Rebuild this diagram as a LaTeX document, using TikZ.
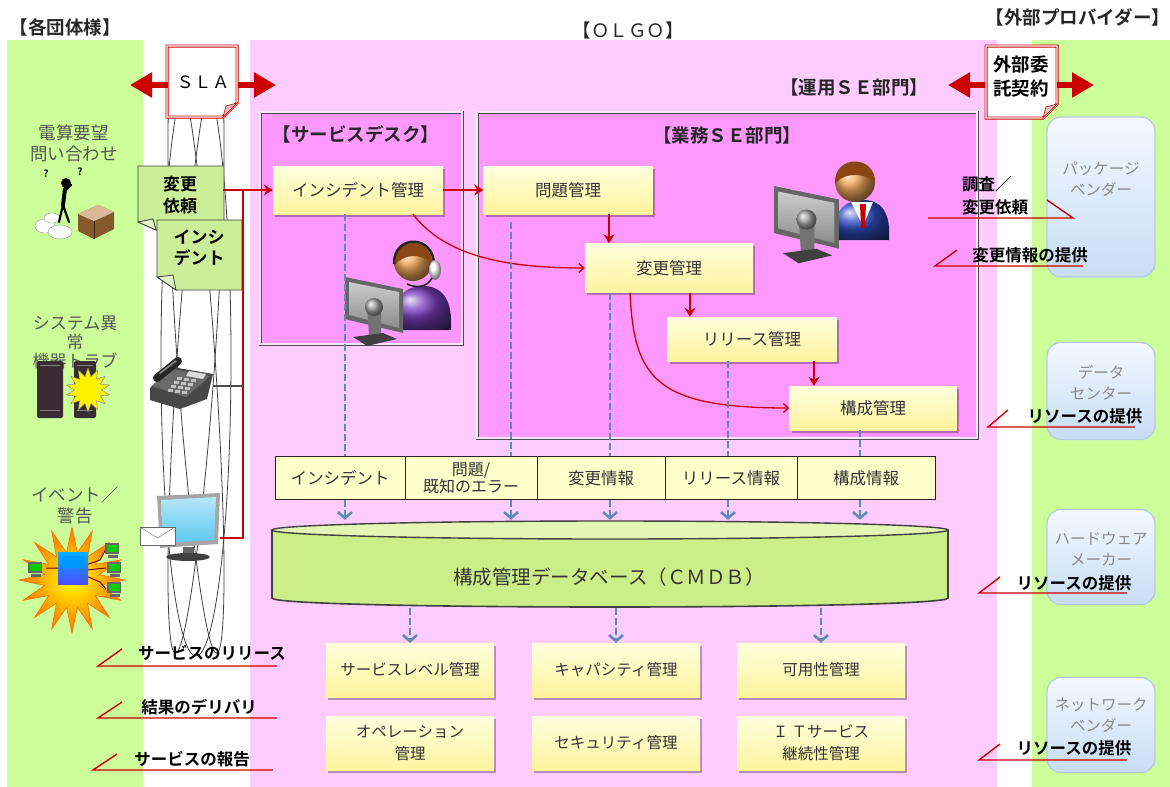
\documentclass[tikz,border=0pt]{standalone}
\usepackage{fontspec}
\setmainfont{Noto Sans CJK JP}[BoldFont={Noto Sans CJK JP Bold}]
\usetikzlibrary{shapes.geometric,shadows,arrows.meta,calc}

\newcommand{\fsz}[2]{\fontsize{#1}{#2}\selectfont}

\definecolor{bandgreen}{HTML}{CCFF99}
\definecolor{bandpink}{HTML}{FFCCFF}
\definecolor{deskpink}{HTML}{FF99FF}
\definecolor{procA}{HTML}{FFFFDD}
\definecolor{procB}{HTML}{FFF39E}
\definecolor{cellfill}{HTML}{FFFFCC}
\definecolor{linkred}{HTML}{CC0000}
\definecolor{flowblue}{HTML}{5B8DB3}
\definecolor{dbgreen}{HTML}{CCEE88}
\definecolor{dbtop}{HTML}{E4F6B4}
\definecolor{docgreen}{HTML}{CCEE99}
\definecolor{vendorA}{HTML}{F4F9FF}
\definecolor{vendorB}{HTML}{C6DDF4}
\definecolor{vendoredge}{HTML}{B4CCE2}
\definecolor{darktext}{HTML}{333333}
\definecolor{greytext}{HTML}{8A8A8A}
\definecolor{lefttext}{HTML}{555555}
\definecolor{skin}{HTML}{F2A65A}
\definecolor{hair}{HTML}{8B4513}
\definecolor{suitblue}{HTML}{3050C8}
\definecolor{purplebody}{HTML}{7A3FC0}
\definecolor{screenblue}{HTML}{5CC8F0}
\definecolor{servdark}{HTML}{3A2C33}

\begin{document}
\begin{tikzpicture}[x=1pt, y=-1pt,
  proc/.style={rectangle, minimum width=170pt, minimum height=48pt, inner sep=2pt,
    top color=procA, bottom color=procB, draw=none, align=center,
    drop shadow={shadow xshift=2pt, shadow yshift=-2.5pt, fill=black, opacity=0.3},
    text=darktext, font=\fsz{16.5}{20}},
  lowproc/.style={proc, minimum width=168pt, minimum height=54pt, font=\fsz{15.5}{22}},
  cell/.style={rectangle, draw=black!85, line width=1pt, fill=cellfill, minimum height=43pt,
    inner sep=1pt, align=center, text=darktext, font=\fsz{16.5}{17}},
  deskbox/.style={draw=black!70, double=bandpink!50, double distance=1.6pt, line width=0.7pt,
    fill=deskpink, inner sep=0pt},
  heading/.style={font=\bfseries\fsz{18.5}{22}, text=black!85},
  redarrow/.style={draw=linkred, line width=1.8pt, -{Stealth[length=9pt,width=11pt]}},
  redcurve/.style={draw=linkred, line width=1.3pt, -{Straight Barb[length=5pt,width=9pt]}},
  redthin/.style={draw=linkred, line width=1.5pt},
  bigarrow/.style={draw=linkred, line width=6pt, -{Triangle[length=22pt,width=24pt]}},
  docred/.style={draw=linkred, line width=0.8pt, double=white, double distance=1.4pt, fill=white},
  docg/.style={draw=black!75, line width=0.8pt, fill=docgreen},
  flowline/.style={draw=flowblue, line width=2.6pt, dash pattern=on 7pt off 3pt},
  flowarrow/.style={flowline, -{Straight Barb[length=6pt,width=14pt]}},
  vendor/.style={rounded corners=14pt, top color=vendorA, bottom color=vendorB,
    draw=vendoredge, line width=1.3pt, minimum width=108pt, inner sep=0pt},
  vtext/.style={font=\fsz{15.5}{21}, text=greytext, align=center},
  halfline/.style={draw=linkred, line width=1.4pt},
  tag/.style={font=\bfseries\fsz{16.5}{23}, text=black, align=center, inner sep=1pt},
  lefttxt/.style={font=\fsz{17.5}{21}, text=lefttext, align=center},
  ringline/.style={draw=black!75, line width=0.8pt},
  blank/.style={inner sep=0pt, minimum size=0pt}
]
\useasboundingbox (0,0) rectangle (1170,787);

% ---- background bands ----
\fill[bandgreen] (7,40) rectangle (143,787);
\fill[bandpink] (250,40) rectangle (997,787);
\fill[bandgreen] (1032,40) rectangle (1170,787);

% ---- headings ----
\node[heading] (hLeft) at (65,27) {【各団体様】};
\node[font=\fsz{18.5}{22}, text=black!85] (hCenter) at (628,30) {【ＯＬＧＯ】};
\node[heading, font=\bfseries\fsz{18.5}{22}] (hRight) at (1078,17) {【外部プロバイダー】};
\node[heading] (hOps) at (854,87) {【運用ＳＥ部門】};

% ---- contact rings ----
\draw[ringline] (196,358) ellipse [x radius=35, y radius=298];
\draw[ringline, rotate around={4:(196,358)}] (196,358) ellipse [x radius=19, y radius=296];
\draw[ringline, rotate around={-4:(196,358)}] (196,358) ellipse [x radius=19, y radius=296];

% ---- SLA document ----
\draw[docred] (167,46) -- (237,46) -- (237,103) -- (223,117) -- (167,117) -- cycle;
\fill[linkred!25, draw=linkred, line width=0.6pt] (223,117) -- (237,103) -- (226,106) -- cycle;
\node[font=\fsz{17}{20}, minimum width=70pt, minimum height=71pt, inner sep=0pt] (sla) at (203,82)
  {Ｓ\hspace{1pt}Ｌ\hspace{1pt}Ａ};
\coordinate (slaL) at (130,85);
\coordinate (slaR) at (276,85);
\draw[bigarrow] ([yshift=-3pt]sla.west) -- (slaL);
\draw[bigarrow] ([yshift=-3pt]sla.east) -- (slaR);

% ---- outsourcing contract document ----
\draw[docred] (986,46) -- (1057,46) -- (1057,104) -- (1043,118) -- (986,118) -- cycle;
\fill[linkred!25, draw=linkred, line width=0.6pt] (1043,118) -- (1057,104) -- (1046,107) -- cycle;
\node[font=\bfseries\fsz{18.5}{24}, align=center, minimum width=71pt, minimum height=72pt, inner sep=0pt]
  (cont) at (1021,76) {外部委\\託契約};
\coordinate (contL) at (948,85);
\coordinate (contR) at (1094,85);
\draw[bigarrow] ([yshift=-9pt]cont.west) -- (contL);
\draw[bigarrow] ([yshift=-9pt]cont.east) -- (contR);

% ---- department frames ----
\node[deskbox, minimum width=202pt, minimum height=232pt] (desk) at (361,228) {};
\node[deskbox, minimum width=500pt, minimum height=326pt] (biz) at (727,275) {};
\node[heading] (deskT) at (356,134) {【サービスデスク】};
\node[heading] (bizT) at (727,135) {【業務ＳＥ部門】};

% ---- service desk operator ----
\begin{scope}[shift={(413,262)}]
  \shade[ball color=purplebody] (-20,68) .. controls (-22,36) and (-8,24) .. (10,24)
     .. controls (28,24) and (40,36) .. (38,68) -- cycle;
  \shade[ball color=skin] (0,0) circle (19);
  \fill[hair] (-19,4) .. controls (-22,-26) and (20,-26) .. (19,2) .. controls (10,-9) and (-10,-9) .. cycle;
  \draw[black!85, line width=2.5pt] (-19,2) .. controls (-20,-28) and (22,-28) .. (21,4);
  \shade[ball color=white] (22,8) ellipse [x radius=6, y radius=10];
  \draw[black!85, line width=1.6pt] (19,16) .. controls (14,26) and (2,26) .. (-6,22);
\end{scope}
\begin{scope}[shift={(345,277)}]
  \fill[black!60] (0,0) -- (58,12) -- (58,56) -- (0,42) -- cycle;
  \shade[top color=black!20, bottom color=black!45] (4,5) -- (54,15) -- (54,51) -- (4,38) -- cycle;
  \fill[black!55] (22,30) -- (36,33) -- (36,60) -- (24,58) -- cycle;
  \shade[ball color=black!35] (29,30) circle (9);
  \fill[black!75] (8,60) -- (38,56) -- (52,62) -- (22,69) -- cycle;
\end{scope}

% ---- business engineer ----
\begin{scope}[shift={(855,182)}]
  \shade[ball color=suitblue] (-22,58) .. controls (-24,30) and (-10,18) .. (8,18)
     .. controls (26,18) and (36,30) .. (34,58) -- cycle;
  \fill[white] (-4,20) -- (18,20) -- (8,44) -- cycle;
  \fill[red!80!black] (5,22) -- (11,22) -- (10,46) -- (6,46) -- cycle;
  \shade[ball color=skin] (0,0) circle (20);
  \fill[hair] (-20,2) .. controls (-22,-28) and (22,-28) .. (20,2) .. controls (12,-10) and (-12,-10) .. cycle;
\end{scope}
\begin{scope}[shift={(774,186)}, scale=1.12]
  \fill[black!60] (0,0) -- (58,12) -- (58,56) -- (0,42) -- cycle;
  \shade[top color=black!20, bottom color=black!45] (4,5) -- (54,15) -- (54,51) -- (4,38) -- cycle;
  \fill[black!55] (22,30) -- (36,33) -- (36,60) -- (24,58) -- cycle;
  \shade[ball color=black!35] (29,30) circle (9);
  \fill[black!75] (8,60) -- (38,56) -- (52,62) -- (22,69) -- cycle;
\end{scope}

% ---- process boxes ----
\node[proc] (incm) at (358,190) {インシデント管理};
\node[proc, minimum width=169pt] (prbm) at (568,190) {問題管理};
\node[proc, minimum width=168pt, minimum height=49pt] (chgm) at (669,268) {変更管理};
\node[proc, minimum width=169pt, minimum height=44pt] (relm) at (752,339) {リリース管理};
\node[proc, minimum width=167pt, minimum height=44pt] (cfgm) at (873,408) {構成管理};

\draw[redarrow] (incm.east) -- (prbm.west);
\draw[redarrow] ([xshift=41pt]prbm.south) -- ([xshift=41pt]prbm.south |- chgm.north);
\draw[redarrow] ([xshift=21pt]chgm.south) -- ([xshift=21pt]chgm.south |- relm.north);
\draw[redarrow] ([xshift=62pt]relm.south) -- ([xshift=62pt]relm.south |- cfgm.north);
\draw[redcurve] ([xshift=55pt]incm.south) .. controls (445,256) and (505,268) .. (chgm.west);
\draw[redcurve] ([xshift=-39pt]chgm.south) .. controls (634,378) and (655,408) .. (cfgm.west);

% ---- request documents ----
\draw[docg] (138,166) -- (224,166) -- (224,230) -- (156,230) -- (138,222) -- cycle;
\fill[docgreen!60!white, draw=black!75, line width=0.8pt] (138,222) -- (156,230) -- (153,219) -- cycle;
\node[font=\bfseries\fsz{17}{22}, align=center, minimum width=86pt, inner sep=0pt] (chgdoc) at (180,195) {変更\\依頼};
\draw[docg] (157,220) -- (242,220) -- (242,290) -- (176,290) -- (157,277) -- cycle;
\fill[docgreen!60!white, draw=black!75, line width=0.8pt] (157,277) -- (176,290) -- (173,275) -- cycle;
\node[font=\bfseries\fsz{17}{21}, align=center, minimum width=85pt, inner sep=0pt] (incdoc) at (199,248) {インシ\\デント};

% ---- phone ----
\node[blank, minimum width=64pt, minimum height=50pt] (phone) at (181,383) {};
\fill[black!72] (150,388) -- (172,367) -- (213,374) -- (207,399) -- (180,409) -- (150,400) -- cycle;
\fill[black!58] (152,386) -- (173,369) -- (210,376) -- (186,397) -- cycle;
\draw[black!85, line width=8pt, line cap=round] (157,378) -- (178,361);
\draw[black!45, line width=1.5pt, line cap=round] (160,373) -- (176,361);
\fill[black!15] (189,371) -- (206,374) -- (203,379) -- (186,376) -- cycle;
\foreach \r in {0,1,2,3} {
  \foreach \c in {0,1,2} {
    \fill[black!25] (177+\c*7-\r*3, 377+\r*4+\c*1.2) rectangle +(4.5,2.5);
  }
}

% ---- mail terminal ----
\node[blank, minimum width=62pt, minimum height=64pt] (mail) at (189,525) {};
\fill[black!35] (157,496) -- (220,493) -- (218,544) -- (160,548) -- cycle;
\shade[top color=screenblue!45!white, bottom color=screenblue] (161,500) -- (216,497) -- (214,540) -- (163,543) -- cycle;
\fill[black!60] (183,547) rectangle (194,556);
\fill[black!75] (188,557) ellipse [x radius=22, y radius=4];
\draw[black!60, fill=white] (140,527) rectangle (175,545);
\draw[black!60] (140,527) -- (157.5,538) -- (175,527);

% ---- request routing ----
\coordinate (jtop) at (243,190);
\coordinate (jphone) at (243,386);
\coordinate (jmail) at (243,538);
\draw[redarrow] (chgdoc.east |- incm.west) -- (incm.west);
\draw[redthin] (jtop) -- (jmail) -- (mail.east |- jmail);
\draw[black!70, line width=1.3pt] (phone.east |- jphone) -- (jphone);

% ---- customer side pictograms ----
\node[lefttxt] (askT) at (74,143) {電算要望\\問い合わせ};
\fill[white, draw=black!40] (45,226) ellipse [x radius=10, y radius=7];
\fill[white, draw=black!40] (60,232) ellipse [x radius=12, y radius=7];
\fill[white, draw=black!40] (52,218) ellipse [x radius=8, y radius=5];
\fill[brown!70!black] (78,214) -- (98,205) -- (114,212) -- (114,229) -- (94,239) -- (78,231) -- cycle;
\fill[brown!55] (78,214) -- (98,205) -- (114,212) -- (94,221) -- cycle;
\draw[brown!30!black, line width=0.5pt] (94,221) -- (94,239);
\fill[black] (66,183) circle (5);
\draw[black, line width=4pt, line cap=round] (65,189) -- (63,205);
\draw[black, line width=2.2pt, line cap=round] (63,205) -- (59,222) (63,205) -- (69,222) (64,192) -- (71,185);
\node[font=\bfseries\fsz{10}{10}, inner sep=0pt] (qa) at (46,174) {?};
\node[font=\bfseries\fsz{10}{10}, inner sep=0pt] (qb) at (80,172) {?};

\node[lefttxt, font=\fsz{17}{19}] (sysT) at (75,342) {システム異\\常\\機器トラブ};
\fill[servdark, rounded corners=2pt] (37,361) rectangle (63,418);
\fill[servdark, rounded corners=2pt] (74,361) rectangle (96,418);
\draw[black!50] (40,365) -- (60,365) (77,365) -- (93,365) (40,410) -- (60,410) (77,410) -- (93,410);
\node[star, star points=14, star point ratio=1.6, inner sep=0pt, minimum size=44pt,
  fill=yellow, draw=black!50] (sysburst) at (88,390) {};

\node[lefttxt] (evT) at (75,505) {イベント／\\警告};
\node[star, star points=16, star point ratio=1.9, inner sep=0pt, minimum size=106pt,
  draw=orange!85!red, line width=0.6pt, inner color=yellow, outer color=orange!90!red] (evburst) at (72,580) {};
\draw[purple!60!black, line width=1pt] (46,568) -- (60,568) (86,565) -- (100,560) -- (106,549)
  (86,570) -- (106,568) (86,576) -- (100,582) -- (106,589);
\shade[top color=blue!30!cyan, bottom color=blue!70] (58,552) rectangle (88,584);
\fill[blue!40!cyan] (62,556) rectangle (84,568);
\foreach \px/\py in {28/562,105/543,107/562,107/582} {
  \fill[black!60] (\px,\py) rectangle +(14,11);
  \fill[green!80!black] (\px+1.5,\py+1.5) rectangle +(11,7);
  \fill[black!60] (\px+3,\py+12) rectangle +(10,3);
}

% ---- information records ----
\node[cell, minimum width=130pt] (c1) at (340,478) {インシデント};
\node[cell, minimum width=132pt, font=\fsz{16}{17}] (c2) at (471,478) {問題/\\既知のエラー};
\node[cell, minimum width=128pt] (c3) at (601,478) {変更情報};
\node[cell, minimum width=132pt] (c4) at (731,478) {リリース情報};
\node[cell, minimum width=138pt] (c5) at (866,478) {構成情報};

% ---- CMDB ----
\fill[dbgreen] (272,530) -- (272,598) .. controls (272,610) and (948,610) .. (948,598) -- (948,530) -- cycle;
\draw[black!75, line width=1.6pt] (272,530) -- (272,598) .. controls (272,610) and (948,610) .. (948,598) -- (948,530);
\draw[black!75, line width=1.4pt, fill=dbtop] (610,530) ellipse [x radius=338, y radius=9];
\node[blank, minimum width=676pt, minimum height=88pt] (db) at (610,564) {};
\node[font=\fsz{19.5}{22}, text=darktext] (dbT) at (609,577) {構成管理データベース（ＣＭＤＢ）};

% ---- flows into the records and the CMDB ----
\coordinate (fx1) at (345,0);
\coordinate (fx2) at (511,0);
\coordinate (fx3) at (610,0);
\coordinate (fx4) at (728,0);
\coordinate (fx5) at (860,0);
\draw[flowline] (incm.south -| fx1) -- (c1.north -| fx1);
\draw[flowline] ($(prbm.south -| fx2)+(0,8)$) -- (c2.north -| fx2);
\draw[flowline] (chgm.south -| fx3) -- (c3.north -| fx3);
\draw[flowline] (relm.south -| fx4) -- (c4.north -| fx4);
\draw[flowline] (cfgm.south -| fx5) -- (c5.north -| fx5);
\draw[flowarrow] (c1.south -| fx1) -- (db.north -| fx1);
\draw[flowarrow] (c2.south -| fx2) -- (db.north -| fx2);
\draw[flowarrow] (c3.south -| fx3) -- (db.north -| fx3);
\draw[flowarrow] (c4.south -| fx4) -- (db.north -| fx4);
\draw[flowarrow] (c5.south -| fx5) -- (db.north -| fx5);

% ---- service management processes ----
\node[lowproc] (slm) at (410,670) {サービスレベル管理};
\node[lowproc] (cap) at (616,670) {キャパシティ管理};
\node[lowproc] (avl) at (821,670) {可用性管理};
\node[lowproc] (opm) at (410,743) {オペレーション\\管理};
\node[lowproc] (sec) at (616,743) {セキュリティ管理};
\node[lowproc] (itsc) at (821,743) {Ｉ Ｔサービス\\継続性管理};
\draw[flowarrow] (db.south -| slm.north) -- (slm.north);
\draw[flowarrow] (db.south -| cap.north) -- (cap.north);
\draw[flowarrow] (db.south -| avl.north) -- (avl.north);

% ---- external providers ----
\node[vendor, minimum height=160pt] (pkg) at (1101,197) {};
\node[vtext] (pkgT) at (1101,179) {パッケージ\\ベンダー};
\node[vendor, minimum height=97pt] (dc) at (1101,391) {};
\node[vtext] (dcT) at (1101,383) {データ\\センター};
\node[vendor, minimum height=95pt] (hw) at (1101,557) {};
\node[vtext] (hwT) at (1101,549) {ハードウェア\\メーカー};
\node[vendor, minimum height=95pt] (nw) at (1101,725) {};
\node[vtext] (nwT) at (1101,715) {ネットワーク\\ベンダー};

% ---- exchanges with providers ----
\node[tag, align=left, anchor=west] (askV) at (961,196) {調査／\\変更依頼};
\coordinate (a1) at (928,218); \coordinate (a2) at (1073,218); \coordinate (a3) at (1047,200);
\draw[halfline] (a1) -- (a2) -- (a3);

\node[tag] (infoV) at (1030,255) {変更情報の提供};
\coordinate (b1) at (957,250); \coordinate (b2) at (935,266); \coordinate (b3) at (1083,266);
\draw[halfline] (b1) -- (b2) -- (b3);

\node[tag] (resDC) at (1085,416) {リソースの提供};
\coordinate (d1) at (1008,410); \coordinate (d2) at (988,427); \coordinate (d3) at (1135,427);
\draw[halfline] (d1) -- (d2) -- (d3);

\node[tag] (resHW) at (1074,583) {リソースの提供};
\coordinate (e1) at (1000,577); \coordinate (e2) at (979,593); \coordinate (e3) at (1127,593);
\draw[halfline] (e1) -- (e2) -- (e3);

\node[tag] (resNW) at (1074,748) {リソースの提供};
\coordinate (g1) at (1000,744); \coordinate (g2) at (979,760); \coordinate (g3) at (1127,760);
\draw[halfline] (g1) -- (g2) -- (g3);

% ---- deliveries to the customers ----
\node[tag] (relC) at (212,653) {サービスのリリース};
\coordinate (h1) at (122,649); \coordinate (h2) at (98,666); \coordinate (h3) at (277,666);
\draw[halfline] (h1) -- (h2) -- (h3);

\node[tag] (delC) at (199,707) {結果のデリバリ};
\coordinate (k1) at (122,702); \coordinate (k2) at (98,718); \coordinate (k3) at (277,718);
\draw[halfline] (k1) -- (k2) -- (k3);

\node[tag] (repC) at (192,759) {サービスの報告};
\coordinate (m1) at (117,754); \coordinate (m2) at (93,770); \coordinate (m3) at (273,770);
\draw[halfline] (m1) -- (m2) -- (m3);
\end{tikzpicture}
\end{document}
